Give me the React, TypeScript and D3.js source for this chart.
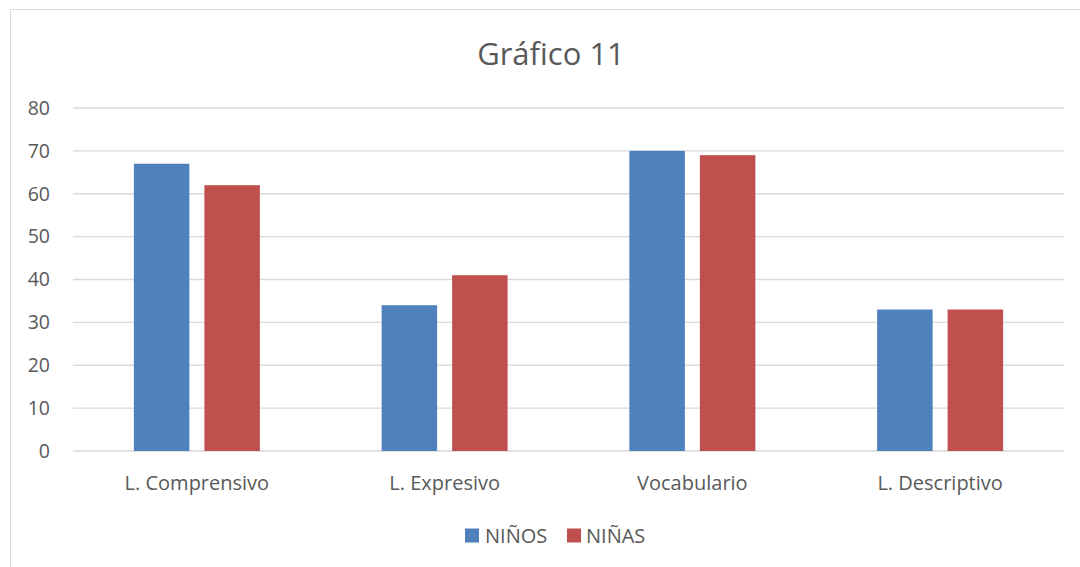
import React from "react";
import * as d3 from "d3";

const categories = ["L. Comprensivo", "L. Expresivo", "Vocabulario", "L. Descriptivo"];
const seriesNames = ["NIÑOS", "NIÑAS"];
const ninos = [67, 34, 70, 33];
const ninas = [62, 41, 69, 33];
const yTicks = [0, 10, 20, 30, 40, 50, 60, 70, 80];
const colors = ["#4F81BD", "#C0504D"];

const W = 1080;
const H = 567;
const left = 73;
const right = 1064;
const top = 108;
const bottom = 451;
const font = "'Open Sans', 'Noto Sans', sans-serif";
const textColor = "#595959";

export default function App() {
  const x0 = d3.scaleBand<string>().domain(categories).range([left, right]).paddingInner(0).paddingOuter(0);
  const y = d3.scaleLinear().domain([0, 80]).range([bottom, top]);
  const bw = 55.5;
  const gap = 15;
  const x1 = d3
    .scaleOrdinal<string, number>()
    .domain(seriesNames)
    .range([-(bw + gap / 2), gap / 2]);
  const values = [ninos, ninas];

  return (
    <svg
      width={W}
      height={H}
      style={{ position: "absolute", left: 0, top: 0, background: "#fff" }}
    >
      <rect x={10.5} y={9.5} width={W + 10} height={H + 10} fill="#fff" stroke="#D9D9D9" strokeWidth={1} />
      <text x={551} y={65} textAnchor="middle" fontFamily={font} fontSize={31} fill={textColor}>
        Gráfico 11
      </text>
      {yTicks.map((t) => (
        <g key={t}>
          <line x1={left} x2={right} y1={y(t)} y2={y(t)} stroke="#D9D9D9" strokeWidth={1.3} />
          <text x={50} y={y(t)} dy="0.35em" textAnchor="end" fontFamily={font} fontSize={19.5} fill={textColor}>
            {t}
          </text>
        </g>
      ))}
      {categories.map((c, i) => (
        <g key={c}>
          {seriesNames.map((s, j) => {
            const cx = (x0(c) as number) + x0.bandwidth() / 2 + x1(s);
            return (
              <rect
                key={s}
                x={cx}
                y={y(values[j][i])}
                width={bw}
                height={y(0) - y(values[j][i])}
                fill={colors[j]}
              />
            );
          })}
          <text
            x={(x0(c) as number) + x0.bandwidth() / 2}
            y={490}
            textAnchor="middle"
            fontFamily={font}
            fontSize={20}
            fill={textColor}
          >
            {c}
          </text>
        </g>
      ))}
      <g>
        <rect x={465} y={528.5} width={14} height={14} fill={colors[0]} />
        <text x={485} y={543} fontFamily={font} fontSize={20} fill={textColor}>
          {seriesNames[0]}
        </text>
        <rect x={567} y={528.5} width={14} height={14} fill={colors[1]} />
        <text x={586} y={543} fontFamily={font} fontSize={20} fill={textColor}>
          {seriesNames[1]}
        </text>
      </g>
    </svg>
  );
}
